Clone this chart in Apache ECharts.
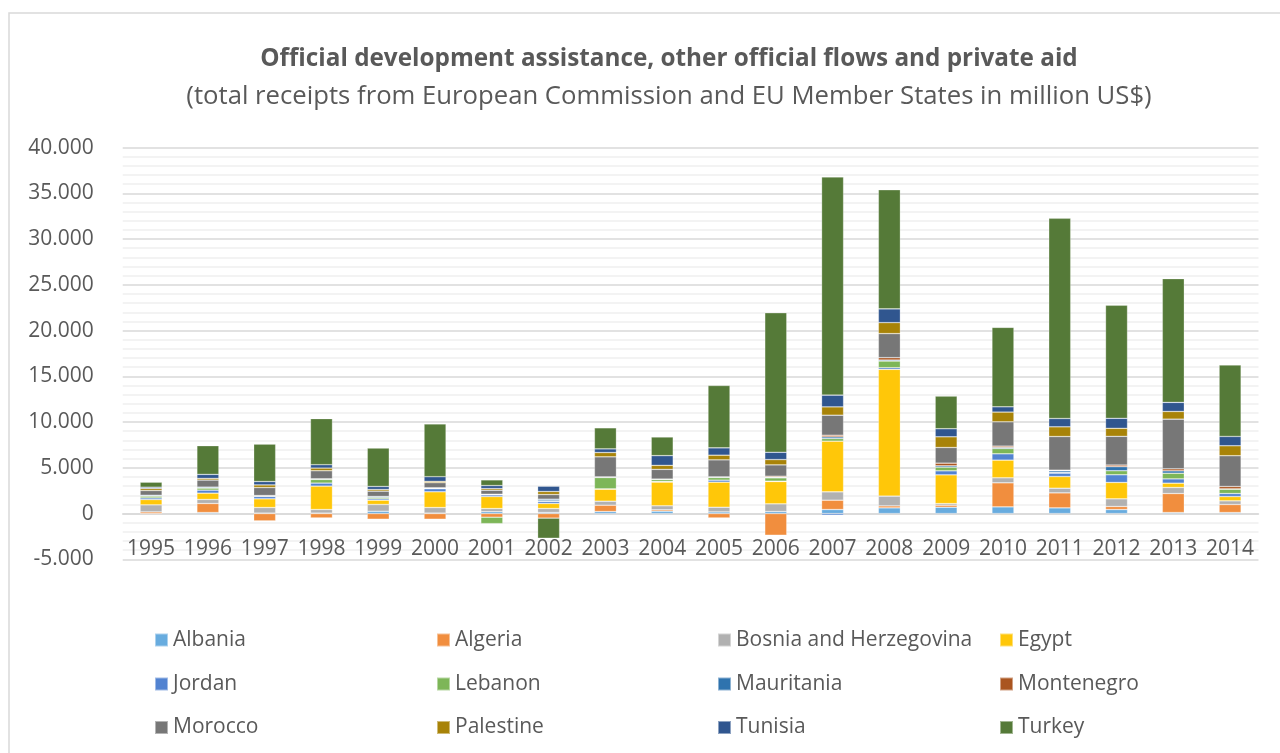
<!DOCTYPE html>
<html>
<head>
<meta charset="utf-8">
<script src="https://cdn.jsdelivr.net/npm/echarts@6/dist/echarts.min.js"></script>
<style>
  html, body { margin: 0; padding: 0; background: #ffffff; }
  #chart { width: 1280px; height: 753px; }
</style>
</head>
<body>
<div id="chart"></div>
<script>
// Receipts by country, million US$, 1995–2014
const years = ['1995','1996','1997','1998','1999','2000','2001','2002','2003','2004',
               '2005','2006','2007','2008','2009','2010','2011','2012','2013','2014'];

const albania    = [0, 110, 50, 50, 250, 50, 200, 120, 220, 260, 180, 220, 440, 620, 690, 730, 620, 440, 110, 110];
const algeria    = [180, 990, -800, -480, -620, -620, -400, -500, 690, 150, -480, -2370, 1020, 220, 220, 2630, 1640, 330, 2080, 880];
const bosnia     = [770, 440, 610, 390, 740, 610, 350, 430, 440, 440, 510, 840, 910, 1060, 180, 550, 510, 840, 660, 400];
const egypt      = [580, 690, 950, 2560, 470, 1720, 1310, 550, 1310, 2590, 2740, 2440, 5540, 13860, 3140, 1930, 1280, 1790, 470, 470];
const jordan     = [180, 330, 250, 330, 150, 330, 180, 220, 40, 70, 220, 40, -180, 180, 440, 690, 370, 840, 470, 330];
const lebanon    = [190, 220, 70, 400, 150, 70, -700, 70, 1240, 220, 290, 360, 290, 730, 400, 580, 70, 440, 620, 470];
const mauritania = [100, 110, 40, 70, 110, 40, 70, 180, 70, 40, 70, 70, 180, 110, 150, 110, 180, 440, 260, 40];
const montenegro = [0, 0, 0, 0, 0, 0, 0, 0, 0, 0, 0, 110, 180, 260, 290, 150, 70, 180, 220, 260];
const morocco    = [520, 770, 870, 880, 580, 550, 440, 510, 2190, 1060, 1860, 1240, 2190, 2630, 1710, 2660, 3680, 3140, 5430, 3360];
const palestine  = [220, 180, 290, 290, 180, 150, 180, 330, 470, 440, 510, 580, 910, 1200, 1170, 1060, 1060, 880, 840, 1090];
const tunisia    = [140, 440, 370, 370, 330, 510, 330, 580, 400, 1060, 800, 800, 1280, 1500, 880, 580, 910, 1090, 990, 1020];
const turkey     = [550, 3140, 4090, 5040, 4200, 5770, 620, -2200, 2300, 2040, 6820, 15250, 23850, 13020, 3570, 8680, 21880, 12360, 13530, 7800];

const yTicks = { min: -5000, max: 40000, step: 5000 };

const seriesDefs = [
  ['Albania', albania, '#68acdf'],
  ['Algeria', algeria, '#f18e3e'],
  ['Bosnia and Herzegovina', bosnia, '#b1b1b1'],
  ['Egypt', egypt, '#ffc709'],
  ['Jordan', jordan, '#5283d1'],
  ['Lebanon', lebanon, '#7db658'],
  ['Mauritania', mauritania, '#2f73ae'],
  ['Montenegro', montenegro, '#aa5520'],
  ['Morocco', morocco, '#777777'],
  ['Palestine', palestine, '#a88308'],
  ['Tunisia', tunisia, '#30568f'],
  ['Turkey', turkey, '#557a38']
];

const textColor = '#595959';
const fontFamily = '"Open Sans", "Noto Sans", sans-serif';

// Plot area geometry: zero line sits 46px above the bottom edge (one 5.000 step)
const gridTop = 147.6, gridBottom = 193.7;
const zeroShift = -46;

// Legend laid out as a 4-column grid, one legend per entry
const legendCols = [154, 436, 717, 999];
const legendRows = [640, 684, 727.5];
const legends = seriesDefs.map((d, i) => ({
  data: [d[0]],
  left: legendCols[i % 4],
  top: legendRows[Math.floor(i / 4)] - 12,
  padding: 0,
  icon: 'rect',
  itemWidth: 13,
  itemHeight: 13,
  selectedMode: false,
  textStyle: { color: textColor, fontSize: 21, fontFamily: fontFamily, lineHeight: 24 }
}));

const option = {
  backgroundColor: '#ffffff',
  animation: false,
  textStyle: { fontFamily: fontFamily },
  title: [
    {
      text: 'Official development assistance, other official flows and private aid',
      left: 669, top: 59 - 15, textAlign: 'center', padding: 0,
      textStyle: { color: textColor, fontSize: 24.3, fontWeight: 'bold', fontFamily: fontFamily, lineHeight: 30 }
    },
    {
      text: '(total receipts from European Commission and EU Member States in million US$)',
      left: 669, top: 97 - 15, textAlign: 'center', padding: 0,
      textStyle: { color: textColor, fontSize: 25.7, fontWeight: 'normal', fontFamily: fontFamily, lineHeight: 30 }
    }
  ],
  legend: legends,
  graphic: [{
    type: 'rect',
    shape: { x: 9, y: 13, width: 1300, height: 800 },
    style: { fill: 'none', stroke: '#d9d9d9', lineWidth: 1.5 },
    silent: true
  }],
  grid: { left: 122.7, right: 21.5, top: gridTop, bottom: gridBottom, containLabel: false },
  xAxis: {
    type: 'category',
    data: years,
    offset: zeroShift,
    axisLine: { show: true, onZero: false, lineStyle: { color: '#d9d9d9', width: 1.5 } },
    axisTick: { show: false },
    axisLabel: { color: textColor, fontSize: 21, margin: 25, interval: 0, fontFamily: fontFamily }
  },
  yAxis: {
    type: 'value',
    min: yTicks.min, max: yTicks.max, interval: yTicks.step,
    axisLine: { show: false },
    axisTick: { show: false },
    axisLabel: {
      color: textColor, fontSize: 21, margin: 29, fontFamily: fontFamily,
      padding: [4, 0, 0, 0],
      formatter: v => v === 0 ? '0' : (v < 0 ? '-' : '') + Math.abs(v / 1000).toFixed(0) + '.000'
    },
    splitLine: { show: true, lineStyle: { color: '#d9d9d9', width: 1.5 } },
    minorTick: { show: false, splitNumber: 5 },
    minorSplitLine: { show: true, lineStyle: { color: '#f0f0f0', width: 1.5 } }
  },
  series: seriesDefs.map(d => ({
    name: d[0],
    type: 'bar',
    stack: 'total',
    data: d[1],
    barWidth: 22,
    itemStyle: { color: d[2], borderColor: 'rgba(255,255,255,0.45)', borderWidth: 0.6 },
    emphasis: { disabled: true }
  }))
};

const chart = echarts.init(document.getElementById('chart'), null, { renderer: 'canvas' });
chart.setOption(option);
</script>
</body>
</html>
